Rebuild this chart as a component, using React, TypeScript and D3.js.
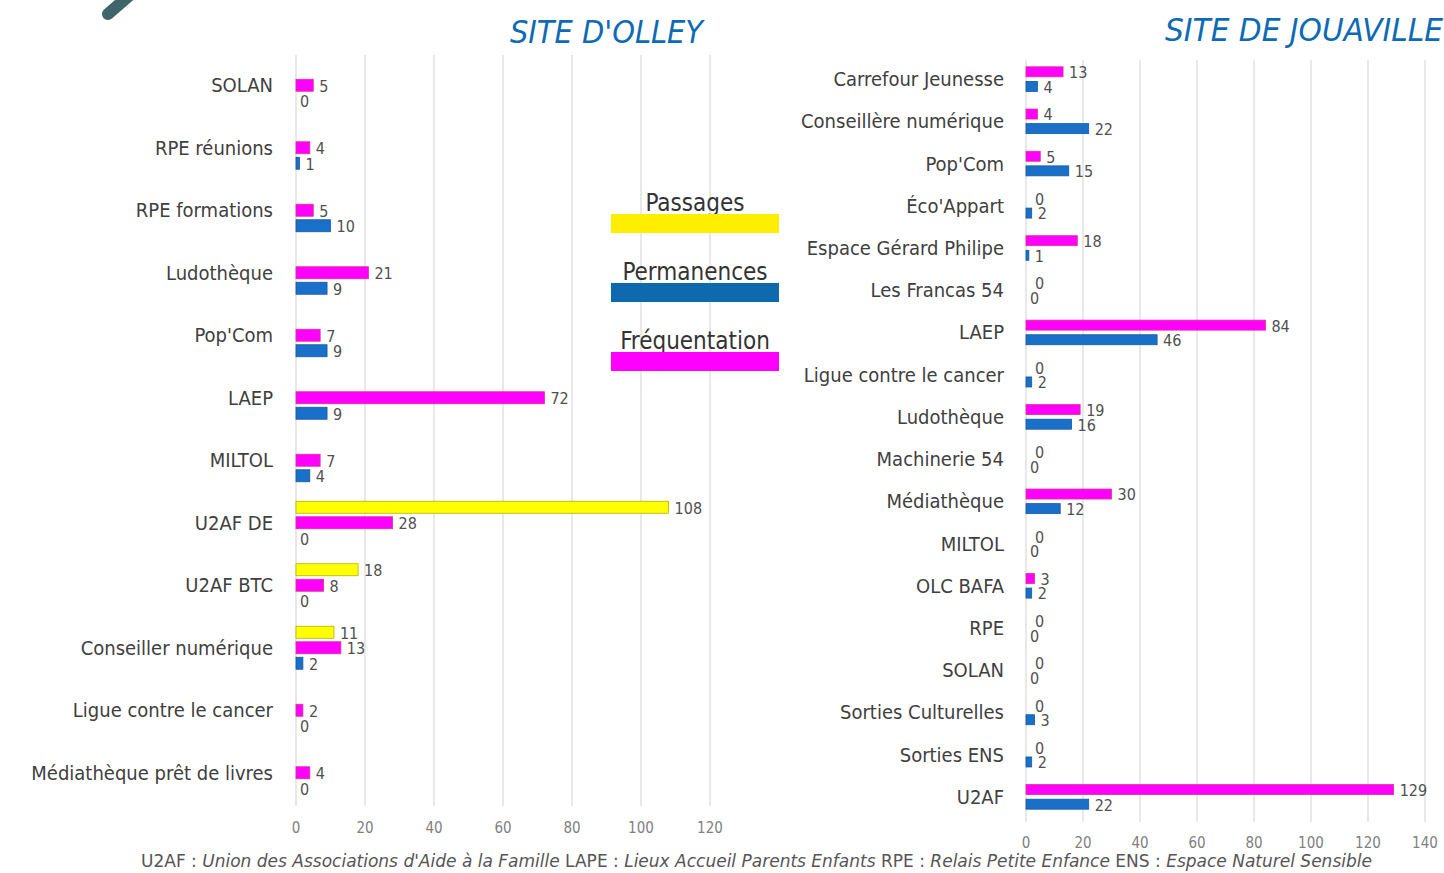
import React from 'react';
import * as d3 from 'd3';

// Site d'Olley
const olleyCategories = [
  'SOLAN', 'RPE réunions', 'RPE formations', 'Ludothèque', "Pop'Com", 'LAEP', 'MILTOL',
  'U2AF DE', 'U2AF BTC', 'Conseiller numérique', 'Ligue contre le cancer', 'Médiathèque prêt de livres',
];
const olleyPassages: (number | null)[] = [null, null, null, null, null, null, null, 108, 18, 11, null, null];
const olleyFrequentation = [5, 4, 5, 21, 7, 72, 7, 28, 8, 13, 2, 4];
const olleyPermanences = [0, 1, 10, 9, 9, 9, 4, 0, 0, 2, 0, 0];
const olleyTicks = [0, 20, 40, 60, 80, 100, 120];

// Site de Jouaville
const jouaCategories = [
  'Carrefour Jeunesse', 'Conseillère numérique', "Pop'Com", "Éco'Appart", 'Espace Gérard Philipe',
  'Les Francas 54', 'LAEP', 'Ligue contre le cancer', 'Ludothèque', 'Machinerie 54', 'Médiathèque',
  'MILTOL', 'OLC BAFA', 'RPE', 'SOLAN', 'Sorties Culturelles', 'Sorties ENS', 'U2AF',
];
const jouaFrequentation = [13, 4, 5, 0, 18, 0, 84, 0, 19, 0, 30, 0, 3, 0, 0, 0, 0, 129];
const jouaPermanences = [4, 22, 15, 2, 1, 0, 46, 2, 16, 0, 12, 0, 2, 0, 0, 3, 2, 22];
const jouaTicks = [0, 20, 40, 60, 80, 100, 120, 140];

const legendItems = ['Passages', 'Permanences', 'Fréquentation'];

const COLORS: Record<string, { fill: string; stroke: string }> = {
  Passages: { fill: '#ffff00', stroke: '#b8b000' },
  Fréquentation: { fill: '#ff00ff', stroke: '#e0308c' },
  Permanences: { fill: '#1a6fc8', stroke: '#155aa0' },
};
const LEGEND_COLORS: Record<string, string> = {
  Passages: '#ffee00',
  Permanences: '#0e6aad',
  Fréquentation: '#ff00ff',
};

const FONT = "'DejaVu Sans Condensed', 'Liberation Sans Narrow', Roboto, sans-serif";
const TEXT = '#404040';

type Series = { name: string; values: (number | null)[] };

function BarPanel(props: {
  categories: string[];
  series: Series[];
  ticks: number[];
  xRange: [number, number];
  yRange: [number, number];
  offset: number;
  barH: number;
  gridTop: number;
  gridBottom: number;
  tickY: number;
  labelX: number;
  labelSize: number;
}) {
  const { categories, series, ticks, xRange, yRange, offset, barH, gridTop, gridBottom, tickY, labelX, labelSize } = props;
  const x = d3.scaleLinear().domain([0, ticks[ticks.length - 1]]).range(xRange);
  const y = d3.scaleBand<string>().domain(categories).range(yRange);
  const sub = d3.scalePoint<string>().domain(series.map(s => s.name)).range([-offset, offset]);

  return (
    <g>
      {ticks.map(t => (
        <g key={t}>
          <line x1={x(t)} x2={x(t)} y1={gridTop} y2={gridBottom} stroke="#dcdcdc" strokeWidth={1.3} />
          <text x={x(t)} y={tickY} textAnchor="middle" fontSize={15} fill="#808080" fontFamily={FONT}>{t}</text>
        </g>
      ))}
      {categories.map((c, i) => {
        const cy = (y(c) ?? 0) + y.bandwidth() / 2;
        return (
          <g key={c}>
            <text x={labelX} y={cy} dy="0.35em" textAnchor="end" fontSize={labelSize} fill={TEXT} fontFamily={FONT}>{c}</text>
            {series.map((s, si) => {
              const v = s.values[i];
              if (v === null || v === undefined) return null;
              const by = cy + (sub(s.name) ?? 0);
              const w = x(v) - x(0);
              // zero labels of the upper series sit a little further right, as in the source
              const gap = v === 0 ? (si === 0 && series.length === 2 ? 9 : 4) : 6;
              return (
                <g key={s.name}>
                  {w > 0 && (
                    <rect x={x(0)} y={by - barH / 2} width={w} height={barH}
                      fill={COLORS[s.name].fill} stroke={COLORS[s.name].stroke} strokeWidth={0.8} />
                  )}
                  <text x={x(v) + gap} y={by} dy="0.4em" fontSize={16} fill="#505050" fontFamily={FONT}>{v}</text>
                </g>
              );
            })}
          </g>
        );
      })}
    </g>
  );
}

export default function App() {
  return (
    <svg width={1444} height={873} style={{ position: 'absolute', left: 0, top: 0, background: '#fff' }}>
      {/* decorative fragment at top left */}
      <line x1={108} y1={14} x2={138} y2={-12} stroke="#3f6469" strokeWidth={12} strokeLinecap="round" />

      <text x={510} y={43} fontSize={32} fontStyle="italic" fill="#0e6ab4" fontFamily={FONT} textLength={193} lengthAdjust="spacingAndGlyphs">SITE D'OLLEY</text>
      <text x={1165} y={41} fontSize={32} fontStyle="italic" fill="#0e6ab4" fontFamily={FONT} textLength={278} lengthAdjust="spacingAndGlyphs">SITE DE JOUAVILLE</text>

      <BarPanel
        categories={olleyCategories}
        series={[
          { name: 'Passages', values: olleyPassages },
          { name: 'Fréquentation', values: olleyFrequentation },
          { name: 'Permanences', values: olleyPermanences },
        ]}
        ticks={olleyTicks}
        xRange={[296, 710]}
        yRange={[54, 804]}
        offset={15.5}
        barH={12}
        gridTop={55}
        gridBottom={806}
        tickY={833}
        labelX={273}
        labelSize={20}
      />

      <BarPanel
        categories={jouaCategories}
        series={[
          { name: 'Fréquentation', values: jouaFrequentation },
          { name: 'Permanences', values: jouaPermanences },
        ]}
        ticks={jouaTicks}
        xRange={[1026, 1425]}
        yRange={[58, 818]}
        offset={7.3}
        barH={10}
        gridTop={60}
        gridBottom={822}
        tickY={848}
        labelX={1004}
        labelSize={20}
      />

      {legendItems.map((name, i) => (
        <g key={name}>
          <text x={695} y={211 + i * 69} textAnchor="middle" fontSize={24} fill="#333" fontFamily={FONT}>{name}</text>
          <rect x={611} y={214 + i * 69} width={168} height={19} fill={LEGEND_COLORS[name]} />
        </g>
      ))}

      <text x={141} y={867} fontSize={18} fill="#555" fontFamily={FONT} textLength={1231} lengthAdjust="spacingAndGlyphs">
        <tspan>U2AF : </tspan>
        <tspan fontStyle="italic">Union des Associations d'Aide à la Famille</tspan>
        <tspan> LAPE : </tspan>
        <tspan fontStyle="italic">Lieux Accueil Parents Enfants</tspan>
        <tspan> RPE : </tspan>
        <tspan fontStyle="italic">Relais Petite Enfance</tspan>
        <tspan> ENS : </tspan>
        <tspan fontStyle="italic">Espace Naturel Sensible</tspan>
      </text>
    </svg>
  );
}
